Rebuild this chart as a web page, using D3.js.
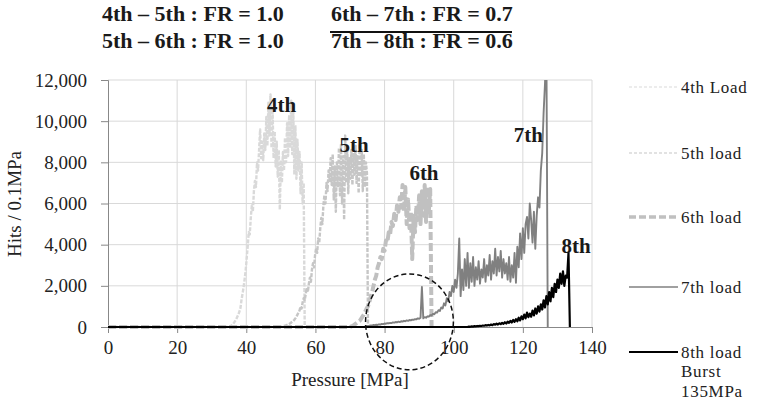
<!DOCTYPE html>
<html><head><meta charset="utf-8">
<script src="https://cdn.jsdelivr.net/npm/d3@7"></script>
<style>
html,body{margin:0;padding:0;background:#fff;}
svg{display:block;font-family:"Liberation Serif","Times New Roman",serif;}
</style></head>
<body><svg id="chart" width="757" height="406"></svg>
<script>
// ---------------- DATA ----------------
const xTicks = [0, 20, 40, 60, 80, 100, 120, 140];
const yTicks = [0, 2000, 4000, 6000, 8000, 10000, 12000];
const seriesNames = ["4th Load", "5th load", "6th load", "7th load", "8th load"];

// each series: start pressure (MPa), step (MPa), and hits/0.1MPa values
const load4Start = 35.0, load4Step = 0.3;
const load4Values = [0,30,60,100,150,220,300,380,500,600,750,900,1300,1600,1900,2300,2700,3300,3900,4600,
  4500,5300,5900,5600,6600,7100,6800,8000,7600,8600,9600,8200,9000,8100,9400,8600,10200,8800,10900,9300,
  11300,8700,10600,8200,9500,7800,9000,7300,8600,5700,8100,7000,8500,7600,9200,8000,9900,8300,10300,8700,
  11000,8400,10500,7400,9800,7200,9100,7600,8500,6500,8000,6000,7000,0];

const load5Start = 50.0, load5Step = 0.3;
const load5Values = [0,20,30,50,60,80,100,120,150,180,220,260,300,350,420,500,600,700,800,1000,
  900,1200,1400,1300,1600,1900,1700,2100,2400,2200,2800,3100,2900,3500,3800,3600,4300,4100,4800,5300,
  5000,5900,6400,6000,7000,6600,7600,7100,8200,6900,8400,6200,7800,5600,8000,6800,8700,6400,8900,6000,
  8300,5200,9300,7000,8800,6500,8200,7200,8600,6900,8400,7400,8800,7000,8300,6500,8900,7300,8600,6600,
  8400,6800,8000,7500,0];

const load6Start = 70.0, load6Step = 0.4;
const load6Values = [0,30,60,100,150,200,250,300,400,500,600,750,900,1000,1200,1500,1700,2000,2300,2500,
  2900,3100,3400,3300,3800,3700,4200,4100,4600,4500,5100,4900,5500,5200,5900,5600,6300,5800,6900,5600,
  6800,5000,6200,4800,5600,3300,5400,4600,5900,5200,6400,5000,6600,5400,6900,5100,6800,5600,6700,0];

const load7Start = 74.0, load7Step = 0.4;
const load7Values = [0,20,40,50,60,80,70,100,90,110,100,130,120,150,140,170,160,190,180,200,
  190,220,210,240,230,260,240,280,260,300,280,320,300,340,320,360,350,380,370,420,
  400,450,1950,420,480,450,520,500,580,560,640,620,720,700,820,780,950,900,1150,1050,
  1400,1250,1700,1500,2000,1700,2300,1900,2600,4300,1500,2800,1800,3300,2000,3600,1900,3100,2200,3400,
  2000,2900,2300,3200,2100,2800,2400,3300,2200,3000,2500,3500,2300,3200,2600,3800,2500,3400,2700,3700,
  2400,3300,2600,3100,2300,3400,2200,3000,2400,3600,2150,3900,2900,4550,3300,4800,3600,5000,5350,4300,
  6000,5200,4100,5600,3800,5400,6300,5800,7600,8450,10400,11800,14000,0];

const load8Start = 104.0, load8Step = 0.4;
const load8Values = [0,20,10,30,20,40,30,50,40,60,50,70,60,90,70,100,80,120,90,140,
  110,160,120,180,140,200,150,230,170,260,200,300,220,340,250,380,280,450,320,520,
  380,600,420,700,480,650,500,800,560,900,650,1000,750,1100,850,1300,950,1500,1100,1700,
  1250,1900,1450,2100,1700,2300,1900,2600,2100,2700,2000,2500,2400,3600,0];

// annotations
const curveLabels = ["4th", "5th", "6th", "7th", "8th"];
const curveLabelX = [50.2, 71.2, 91.4, 121.6, 135.4];
const curveLabelY = [10440, 8500, 7140, 8990, 3600];
const titleLeft = ["4th \u2013 5th : FR = 1.0", "5th \u2013 6th : FR = 1.0"];
const titleRight = ["6th \u2013 7th : FR = 0.7", "7th \u2013 8th : FR = 0.6"];
const circleCenter = [87.2, 250];   // MPa, hits
const circleRadius = [12.7, 2330];  // MPa, hits

// ---------------- CHART ----------------
const svg = d3.select("#chart");
const margin = {left: 108, right: 165, top: 80, bottom: 79};
const W = 757, H = 406;
const x = d3.scaleLinear().domain([0, 140]).range([margin.left, W - margin.right]);
const y = d3.scaleLinear().domain([0, 12000]).range([H - margin.bottom, margin.top]);

function build(start, step, vals) {
  const pts = [[0, 0]];
  vals.forEach((v, i) => pts.push([start + i * step, v]));
  return pts;
}
const series = [
  {name: seriesNames[0], data: build(load4Start, load4Step, load4Values), color: "#d9d9d9", width: 2.4, dash: "4,1.5", legW: 1.2, legDash: "3,2"},
  {name: seriesNames[1], data: build(load5Start, load5Step, load5Values), color: "#c6c6c6", width: 2.4, dash: "4,1.5", legW: 1.2, legDash: "3,2"},
  {name: seriesNames[2], data: build(load6Start, load6Step, load6Values), color: "#c0c0c0", width: 4, dash: "8,3", legW: 3.5, legDash: "7,3"},
  {name: seriesNames[3], data: build(load7Start, load7Step, load7Values), color: "#808080", width: 1.9, dash: null, legW: 1.6, legDash: null},
  {name: seriesNames[4], data: build(load8Start, load8Step, load8Values), color: "#000000", width: 2.2, dash: null, legW: 2.2, legDash: null}
];

// gridlines
const grid = svg.append("g");
grid.selectAll("line.h").data(yTicks.slice(1)).join("line")
  .attr("x1", x(0)).attr("x2", x(140)).attr("y1", d => y(d)).attr("y2", d => y(d))
  .attr("stroke", "#d9d9d9").attr("stroke-width", 1);
grid.selectAll("line.v").data(xTicks.slice(1)).join("line")
  .attr("x1", d => x(d)).attr("x2", d => x(d)).attr("y1", y(0)).attr("y2", y(12000))
  .attr("stroke", "#d9d9d9").attr("stroke-width", 1);

// axes
const xAxis = svg.append("g").attr("transform", `translate(0,${y(0)})`)
  .call(d3.axisBottom(x).tickValues(xTicks).tickSize(6).tickPadding(8).tickFormat(d3.format("d")));
const yAxis = svg.append("g").attr("transform", `translate(${x(0)},0)`)
  .call(d3.axisLeft(y).tickValues(yTicks).tickSize(7).tickPadding(14).tickFormat(d3.format(",")));
[xAxis, yAxis].forEach(a => {
  a.select(".domain").attr("stroke", "#888").attr("stroke-width", 1);
  a.selectAll(".tick line").attr("stroke", "#888");
  a.selectAll("text").attr("font-family", "Liberation Serif, serif").attr("font-size", 19).attr("fill", "#222");
});

svg.append("defs").append("clipPath").attr("id", "clip")
  .append("rect").attr("x", x(0)).attr("y", y(12000)).attr("width", x(140) - x(0) + 2).attr("height", y(0) - y(12000) + 2);

const line = d3.line().x(d => x(d[0])).y(d => y(d[1]));
const lines = svg.append("g").attr("clip-path", "url(#clip)");
series.forEach(s => {
  lines.append("path").datum(s.data).attr("d", line)
    .attr("fill", "none").attr("stroke", s.color).attr("stroke-width", s.width)
    .attr("stroke-dasharray", s.dash).attr("stroke-linejoin", "round");
});

// dashed circle annotation
svg.append("ellipse")
  .attr("cx", x(circleCenter[0])).attr("cy", y(circleCenter[1]))
  .attr("rx", x(circleCenter[0] + circleRadius[0]) - x(circleCenter[0]))
  .attr("ry", y(0) - y(circleRadius[1]))
  .attr("fill", "none").attr("stroke", "#111").attr("stroke-width", 1.5).attr("stroke-dasharray", "5,3");

// curve labels
svg.append("g").selectAll("text").data(curveLabels).join("text")
  .attr("x", (d, i) => x(curveLabelX[i])).attr("y", (d, i) => y(curveLabelY[i]))
  .attr("text-anchor", "middle").attr("font-weight", "bold").attr("font-size", 21).attr("fill", "#1a1a1a")
  .text(d => d);

// axis titles
svg.append("text").attr("x", 350).attr("y", 386).attr("text-anchor", "middle")
  .attr("font-size", 19).attr("fill", "#222").text("Pressure [MPa]");
svg.append("text").attr("transform", "translate(21,204) rotate(-90)").attr("text-anchor", "middle")
  .attr("font-size", 19).attr("fill", "#222").text("Hits / 0.1MPa");

// title block
const tg = svg.append("g").attr("font-weight", "bold").attr("font-size", 22).attr("fill", "#1a1a1a");
titleLeft.forEach((t, i) => tg.append("text").attr("x", 102).attr("y", 21 + i * 27).text(t));
titleRight.forEach((t, i) => tg.append("text").attr("x", 331).attr("y", 21 + i * 27).text(t));
tg.append("line").attr("x1", 330).attr("x2", 512).attr("y1", 32).attr("y2", 32)
  .attr("stroke", "#111").attr("stroke-width", 2);

// legend
const legY = [87, 153, 217, 287, 352];
const lg = svg.append("g").attr("font-size", 17).attr("fill", "#222").attr("letter-spacing", 0.7);
series.forEach((s, i) => {
  lg.append("line").attr("x1", 629).attr("x2", 678).attr("y1", legY[i]).attr("y2", legY[i])
    .attr("stroke", s.color).attr("stroke-width", s.legW)
    .attr("stroke-dasharray", s.legDash);
  lg.append("text").attr("x", 681).attr("y", legY[i]).attr("dy", "0.35em").text(s.name);
});
lg.append("text").attr("x", 681).attr("y", 371).attr("dy", "0.35em").text("Burst");
lg.append("text").attr("x", 681).attr("y", 391).attr("dy", "0.35em").text("135MPa");
</script></body></html>
